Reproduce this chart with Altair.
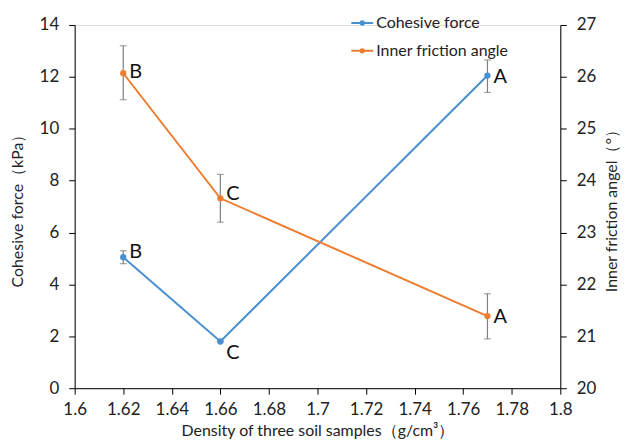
import altair as alt
import pandas as pd

density = [1.62, 1.66, 1.77]
grade = ["B", "C", "A"]
cohesive = [5.05, 1.8, 12.05]
cohesive_lo = [4.8, 1.8, 11.4]
cohesive_hi = [5.3, 1.8, 12.65]
friction = [26.07, 23.66, 21.39]
friction_lo = [25.56, 23.2, 20.95]
friction_hi = [26.6, 24.12, 21.82]
friction_grade = ["B", "C", "A"]

S1 = "Cohesive force"
S2 = "Inner friction angle"
BLUE = "#4a8fd0"
ORANGE = "#ED7D31"
FONT = "Lato"

df1 = pd.DataFrame({"x": density, "y": cohesive, "lo": cohesive_lo, "hi": cohesive_hi,
                    "g": grade, "s": [S1] * 3})
df2 = pd.DataFrame({"x": density, "y": friction, "lo": friction_lo, "hi": friction_hi,
                    "g": friction_grade, "s": [S2] * 3})

xs = alt.X("x:Q", scale=alt.Scale(domain=[1.6, 1.8], nice=False),
           axis=alt.Axis(values=[round(1.6 + 0.02 * i, 2) for i in range(11)], format="~g",
                         title="Density of three soil samples（g/cm³）",
                         grid=False, domainColor="#000", tickColor="#000",
                         tickSize=6, labelPadding=7, labelFontSize=17, titleFontSize=16,
                         labelColor="#222", titleColor="#222", titleFontWeight="normal",
                         labelFont=FONT, titleFont=FONT, titlePadding=6, labelFlush=False))
legend_symbol = ("M-1,0L1,0 M-0.15,0 A0.15,0.15 0 1,1 0.15,0 "
                 "A0.15,0.15 0 1,1 -0.15,0")
color = alt.Color("s:N", scale=alt.Scale(domain=[S1, S2], range=[BLUE, ORANGE]),
                  legend=alt.Legend(title=None, orient="none", legendX=277, legendY=-14,
                                    symbolType=legend_symbol, symbolStrokeWidth=2,
                                    symbolSize=484,
                                    labelFontSize=16, labelFont=FONT, labelColor="#222",
                                    rowPadding=8, labelOffset=2))

y1 = alt.Scale(domain=[0, 14], nice=False)
y2 = alt.Scale(domain=[20, 27], nice=False)

ax1 = alt.Axis(values=list(range(0, 15, 2)), title="Cohesive force（kPa）", grid=False,
               domainColor="#000", tickColor="#000", tickSize=6, labelPadding=10,
               labelFontSize=17, titleFontSize=16, labelColor="#222", titleColor="#222",
               titleFontWeight="normal", labelFont=FONT, titleFont=FONT, titlePadding=14)
ax2 = alt.Axis(orient="right", values=[20 + 0.5 * i for i in range(15)], format="~g",
               labelExpr="datum.value % 1 == 0 ? datum.label : ''", labelOverlap=False,
               title="Inner friction angel（°）", grid=False, titleAngle=270,
               titleBaseline="top",
               domainColor="#000", tickColor="#000", tickSize=6, labelPadding=10,
               labelFontSize=17, titleFontSize=16, labelColor="#222", titleColor="#222",
               titleFontWeight="normal", labelFont=FONT, titleFont=FONT, titlePadding=8)


def series(df, scale, axis, dxs, dys):
    base = alt.Chart(df)
    err = base.mark_rule(color="#7f7f7f", strokeWidth=1.2).encode(
        x=xs, y=alt.Y("lo:Q", scale=scale, axis=axis), y2="hi:Q")
    cap_lo = base.mark_tick(color="#7f7f7f", thickness=1.2, size=7, orient="horizontal").encode(
        x="x:Q", y=alt.Y("lo:Q", scale=scale))
    cap_hi = base.mark_tick(color="#7f7f7f", thickness=1.2, size=7, orient="horizontal").encode(
        x="x:Q", y=alt.Y("hi:Q", scale=scale))
    line = base.mark_line(strokeWidth=2).encode(x="x:Q", y=alt.Y("y:Q", scale=scale), color=color)
    pts = base.mark_circle(size=40, opacity=1).encode(x="x:Q", y=alt.Y("y:Q", scale=scale), color=color)
    layers = [err, cap_lo, cap_hi, line, pts]
    for i in range(len(df)):
        layers.append(
            alt.Chart(df.iloc[[i]]).mark_text(align="left", baseline="middle", dx=dxs[i],
                                              dy=dys[i], fontSize=20, font=FONT,
                                              color="#111").encode(
                x="x:Q", y=alt.Y("y:Q", scale=scale), text="g:N"))
    return alt.layer(*layers)


left = series(df1, y1, ax1, [6, 6, 6], [-5, 12, 1])
right = series(df2, y2, ax2, [6, 6, 6], [-1, -4, 1])

chart = alt.layer(left, right).resolve_scale(y="independent").properties(
    width=488, height=365, autosize=alt.AutoSizeParams(type="none"),
    padding={"left": 67, "top": 16, "right": 62, "bottom": 54},
).configure_view(stroke=None).configure(background="white")

chart.save("out.html", embed_options={"renderer": "svg", "actions": False})
